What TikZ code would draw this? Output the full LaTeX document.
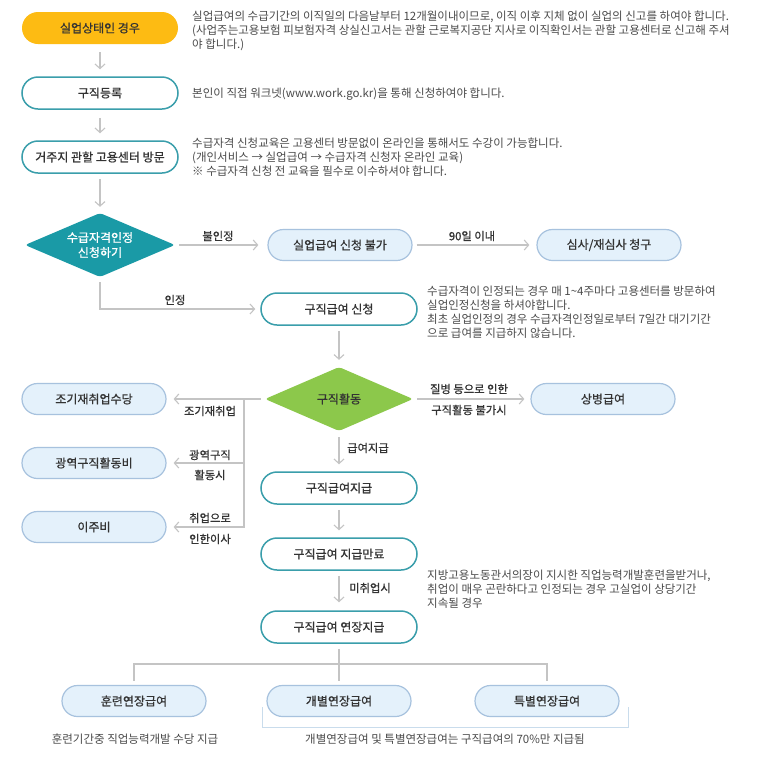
\documentclass[tikz,border=0pt]{standalone}
\usepackage{fontspec}
\setmainfont{Noto Sans CJK KR}
\newfontfamily\krm{Noto Sans CJK KR}[FakeBold=0.8]
\usetikzlibrary{shapes.geometric,arrows.meta}
\definecolor{yel}{HTML}{FDBB13}
\definecolor{tealb}{HTML}{3A9EAB}
\definecolor{tealf}{HTML}{1A9AA6}
\definecolor{grn}{HTML}{8CC84B}
\definecolor{lbf}{HTML}{E4F1FB}
\definecolor{lbd}{HTML}{A7C2DE}
\definecolor{arc}{HTML}{C4C4C4}
\definecolor{txt}{HTML}{333333}
\definecolor{dsc}{HTML}{4A4A4A}
\definecolor{brk}{HTML}{C9DCEC}
\begin{document}
\begin{tikzpicture}[x=1pt,y=-1pt,
  pill/.style={rectangle, rounded corners=16pt, minimum width=156pt, minimum height=32pt, inner sep=0pt, font=\krm\fontsize{12}{14}\selectfont, text=txt},
  pw/.style={pill, draw=tealb, line width=1.5pt, fill=white},
  py/.style={pill, fill=yel},
  pb/.style={pill, draw=lbd, line width=1.2pt, fill=lbf, minimum width=144pt, minimum height=31pt, rounded corners=15.5pt},
  dia/.style={diamond, inner sep=0pt, rounded corners=3pt, align=center, font=\krm\fontsize{12}{15}\selectfont},
  desc/.style={anchor=north west, align=left, inner sep=0pt, font=\fontsize{11.5}{14}\selectfont, text=dsc},
  lab/.style={font=\krm\fontsize{11.3}{13}\selectfont, text=txt, inner sep=0pt},
  arr/.style={draw=arc, line width=1.1pt, -{Straight Barb[length=4.5pt,width=10pt]}},
  ln/.style={draw=arc, line width=1.1pt}
]
\useasboundingbox (0,0) rectangle (780,780);
\fill[white] (0,0) rectangle (780,780);

% main column
\node[py] (n1) at (100,28) {실업상태인 경우};
\node[pw] (n2) at (100,93) {구직등록};
\node[pw] (n3) at (100,157) {거주지 관할 고용센터 방문};
\node[dia, fill=tealf, text=white, minimum width=150pt, minimum height=64pt, aspect=2.34] (d1) at (100,245) {수급자격인정\\신청하기};
\node[pb] (r1) at (340,245) {실업급여 신청 불가};
\node[pb] (r2) at (609,245) {심사/재심사 청구};
\node[pw] (s4) at (339,309) {구직급여 신청};
\node[dia, fill=grn, text=txt, minimum width=148pt, minimum height=64pt, aspect=2.31] (d2) at (339,399) {구직활동};
\node[pb] (a1) at (94,399) {조기재취업수당};
\node[pb] (a2) at (94,463) {광역구직활동비};
\node[pb] (a3) at (94,527) {이주비};
\node[pb] (s5) at (603,399) {상병급여};
\node[pw] (g1) at (339,488) {구직급여지급};
\node[pw] (g2) at (339,554) {구직급여 지급만료};
\node[pw] (g3) at (339,627) {구직급여 연장지급};
\node[pb] (f1) at (134,701) {훈련연장급여};
\node[pb] (f2) at (339,701) {개별연장급여};
\node[pb] (f3) at (547,701) {특별연장급여};

% descriptions
\node[desc] (t1) at (192,10.5) {실업급여의 수급기간의 이직일의 다음날부터 12개월이내이므로, 이직 이후 지체 없이 실업의 신고를 하여야 합니다.\\(사업주는고용보험 피보험자격 상실신고서는 관할 근로복지공단 지사로 이직확인서는 관할 고용센터로 신고해 주셔\\야 합니다.)};
\node[desc] (t2) at (192,88) {본인이 직접 워크넷(www.work.go.kr)을 통해 신청하여야 합니다.};
\node[desc] (t3) at (192,138) {수급자격 신청교육은 고용센터 방문없이 온라인을 통해서도 수강이 가능합니다.\\(개인서비스 → 실업급여 → 수급자격 신청자 온라인 교육)\\※ 수급자격 신청 전 교육을 필수로 이수하셔야 합니다.};
\node[desc] (t4) at (427,285.5) {수급자격이 인정되는 경우 매 1\textasciitilde4주마다 고용센터를 방문하여\\실업인정신청을 하셔야합니다.\\최초 실업인정의 경우 수급자격인정일로부터 7일간 대기기간\\으로 급여를 지급하지 않습니다.};
\node[desc] (t5) at (427,569.5) {지방고용노동관서의장이 지시한 직업능력개발훈련을받거나,\\취업이 매우 곤란하다고 인정되는 경우 고실업이 상당기간\\지속될 경우};
\node[desc, anchor=center] (t6) at (135,739) {훈련기간중 직업능력개발 수당 지급};
\node[desc, anchor=center] (t7) at (445,739) {개별연장급여 및 특별연장급여는 구직급여의 70\%만 지급됨};

% connector labels
\node[lab] (l1) at (218,236) {불인정};
\node[lab] (l2) at (472,236) {90일 이내};
\node[lab] (l3) at (175,300) {인정};
\node[lab] (l4) at (210,411) {조기재취업};
\node[lab] (l5) at (210,455) {광역구직};
\node[lab] (l6) at (210,475) {활동시};
\node[lab] (l7) at (210,518) {취업으로};
\node[lab] (l8) at (210,539) {인한이사};
\node[lab] (l9) at (469,389) {질병 등으로 인한};
\node[lab] (l10) at (469,410) {구직활동 불가시};
\node[lab] (l11) at (368,448) {급여지급};
\node[lab] (l12) at (370,588) {미취업시};

% connectors
\draw[arr, shorten <=8pt, shorten >=7pt] (n1) -- (n2);
\draw[arr, shorten <=8pt, shorten >=7pt] (n2) -- (n3);
\draw[arr, shorten <=5pt, shorten >=6pt] (n3) -- (d1);
\draw[arr, shorten <=4pt, shorten >=9pt] (d1) -- (r1);
\draw[arr, shorten <=4pt, shorten >=7pt] (r1) -- (r2);
\draw[arr, shorten <=5pt, shorten >=5pt] (d1) |- (s4);
\draw[arr, shorten <=5pt, shorten >=7pt] (s4) -- (d2);
\draw[arr, shorten <=4pt, shorten >=6pt] (d2) -- (s5);
\draw[arr, shorten <=4pt, shorten >=7pt] (d2) -- (a1);
\coordinate (jt) at (244,399);
\draw[arr, shorten >=7pt] (jt) |- (a2);
\draw[arr, shorten >=7pt] (jt) |- (a3);
\draw[arr, shorten <=6pt, shorten >=7pt] (d2) -- (g1);
\draw[arr, shorten <=5pt, shorten >=7pt] (g1) -- (g2);
\draw[arr, shorten <=5pt, shorten >=8pt] (g2) -- (g3);
\coordinate (tj) at (339,664);
\draw[ln, shorten <=5pt] (g3.south) -- (tj);
\draw[ln] ([yshift=4pt]f1.north) -- (f1.north |- tj) -- (f3.north |- tj) -- ([yshift=4pt]f3.north);
\draw[ln] (tj) -- ([yshift=4pt]f2.north);
\draw[draw=brk, line width=1pt] (262,707) -- (262,727) -- (628,727) -- (628,707);
\end{tikzpicture}
\end{document}
